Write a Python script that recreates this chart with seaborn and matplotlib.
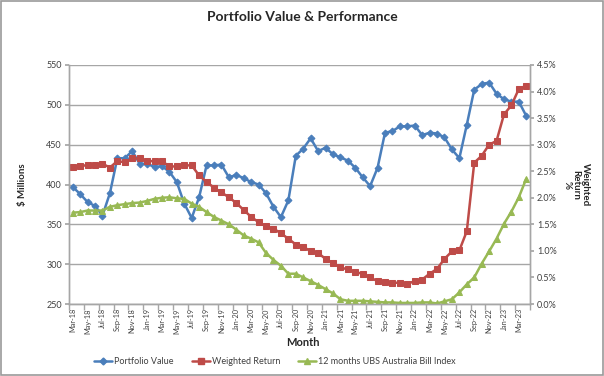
import numpy as np
import pandas as pd
import matplotlib
matplotlib.use("Agg")
import matplotlib.pyplot as plt
import seaborn as sns
from matplotlib.lines import Line2D
from matplotlib.patches import Rectangle

# Monthly categories, Mar-18 .. Apr-23
months = pd.date_range("2018-03-01", periods=62, freq="MS").strftime("%b-%y").tolist()

portfolio_value = [
    397, 388, 378, 373, 361, 389, 433, 433, 442, 426,
    426, 422, 423, 416, 403, 376, 358, 384, 424, 424,
    425, 409, 412, 408, 403, 400, 389, 372, 359, 380,
    436, 445, 458, 442, 446, 438, 434, 430, 421, 409,
    398, 421, 465, 467, 473, 473, 474, 462, 465, 464,
    459, 444, 433, 475, 519, 526, 528, 514, 507, 504,
    504, 486,
]

weighted_return = [
    2.58, 2.59, 2.62, 2.61, 2.64, 2.57, 2.69, 2.67, 2.74, 2.74,
    2.69, 2.69, 2.69, 2.59, 2.59, 2.61, 2.61, 2.42, 2.30, 2.19,
    2.10, 2.01, 1.90, 1.77, 1.64, 1.54, 1.46, 1.42, 1.33, 1.23,
    1.12, 1.08, 0.99, 0.96, 0.85, 0.77, 0.69, 0.65, 0.60, 0.57,
    0.50, 0.43, 0.41, 0.40, 0.40, 0.38, 0.43, 0.46, 0.57, 0.66,
    0.85, 0.99, 1.01, 1.37, 2.66, 2.79, 3.00, 3.07, 3.57, 3.74,
    4.05, 4.11,
]

bill_index = [
    1.72, 1.73, 1.76, 1.76, 1.76, 1.83, 1.86, 1.88, 1.90, 1.91,
    1.94, 1.98, 2.00, 2.01, 1.99, 1.98, 1.89, 1.83, 1.73, 1.64,
    1.57, 1.50, 1.40, 1.29, 1.23, 1.16, 0.96, 0.83, 0.72, 0.57,
    0.57, 0.50, 0.43, 0.36, 0.28, 0.20, 0.09, 0.06, 0.06, 0.06,
    0.05, 0.04, 0.03, 0.03, 0.02, 0.02, 0.02, 0.03, 0.03, 0.01,
    0.05, 0.09, 0.22, 0.37, 0.50, 0.76, 0.99, 1.23, 1.51, 1.74,
    2.01, 2.36,
]

df = pd.DataFrame({
    "idx": np.arange(len(months)),
    "month": months,
    "portfolio": portfolio_value,
    "weighted": weighted_return,
    "bill": bill_index,
})

sns.set_theme(style="white")
plt.rcParams["font.family"] = ["Lato", "DejaVu Sans"]

blue = "#4A7EBB"
red = "#BE4B48"
green = "#98B954"
txt = "#404040"
grid = "#A6A6A6"

fig = plt.figure(figsize=(6.04, 3.76), dpi=100)
ax1 = fig.add_axes([69 / 604, 1 - 304 / 376, (530 - 69) / 604, (304 - 65) / 376])
ax2 = ax1.twinx()

sns.lineplot(data=df, x="idx", y="portfolio", ax=ax1, color=blue, lw=1.8,
             marker="D", markersize=3.5, markeredgecolor=blue, markerfacecolor=blue)
sns.lineplot(data=df, x="idx", y="weighted", ax=ax2, color=red, lw=1.8,
             marker="s", markersize=5, markeredgecolor=red, markerfacecolor=red)
sns.lineplot(data=df, x="idx", y="bill", ax=ax2, color=green, lw=1.8,
             marker="^", markersize=5, markeredgecolor=green, markerfacecolor=green)

ax1.set_xlim(-0.5, len(months) - 0.5)
ax1.set_ylim(250, 550)
ax1.set_yticks(np.arange(250, 551, 50))
ax2.set_ylim(0, 4.5)
ax2.set_yticks(np.arange(0, 4.51, 0.5))
ax2.set_yticklabels([f"{v:.1f}%" for v in np.arange(0, 4.51, 0.5)])

ax1.yaxis.grid(True, color=grid, lw=1)
ax1.set_axisbelow(True)

lab_idx = list(range(0, len(months), 2))
ax1.set_xticks(lab_idx)
ax1.set_xticklabels([months[i] for i in lab_idx], rotation=90)
ax1.set_xticks(np.arange(-0.5, len(months), 2), minor=True)
ax1.tick_params(axis="x", which="major", length=0, labelsize=5.3, colors=txt, pad=3)
ax1.tick_params(axis="x", which="minor", length=4, color=grid, direction="out", bottom=True)
ax1.tick_params(axis="y", length=3, color=grid, direction="out", labelsize=6.5,
                colors=txt, left=True, pad=2)
ax2.tick_params(axis="y", length=3, color=grid, direction="out", labelsize=6.5,
                colors=txt, right=True, pad=2)

for ax in (ax1, ax2):
    for s in ax.spines.values():
        s.set_color(grid)
        s.set_linewidth(1)
    ax.spines["top"].set_visible(False)
    ax.set_xlabel("")
    ax.set_ylabel("")

fig.text(303 / 604, 1 - 343 / 376, "Month", ha="center", va="center",
         fontsize=8, fontweight="bold")
fig.text(22 / 604, 1 - 185 / 376, "$ Millions", rotation=90, ha="center", va="center",
         fontsize=7, fontweight="bold")
fig.text(576 / 604, 1 - 185 / 376, "Weighted\nReturn\n%", rotation=-90, ha="center",
         va="center", fontsize=7, fontweight="bold", linespacing=1.0,
         multialignment="center")

fig.suptitle("Portfolio Value & Performance", x=0.5, y=1 - 17 / 376, va="center",
             fontsize=10, fontweight="bold")

handles = [
    Line2D([], [], color=blue, lw=1.8, marker="D", markersize=3.5),
    Line2D([], [], color=red, lw=1.8, marker="s", markersize=5),
    Line2D([], [], color=green, lw=1.8, marker="^", markersize=5),
]
labels = ["Portfolio Value", "Weighted Return", "12 months UBS Australia Bill Index"]
fig.legend(handles, labels, loc="center", bbox_to_anchor=(275 / 604, 1 - 362 / 376),
           ncol=3, frameon=False, fontsize=6.5, handlelength=2.0, handletextpad=0.2,
           columnspacing=2.0, labelcolor=txt)

fig.patches.append(Rectangle((0.001, 0.002), 0.997, 0.995, transform=fig.transFigure,
                             fill=False, edgecolor="#9A9A9A", lw=1.2))

fig.savefig("out.png", dpi=100)
